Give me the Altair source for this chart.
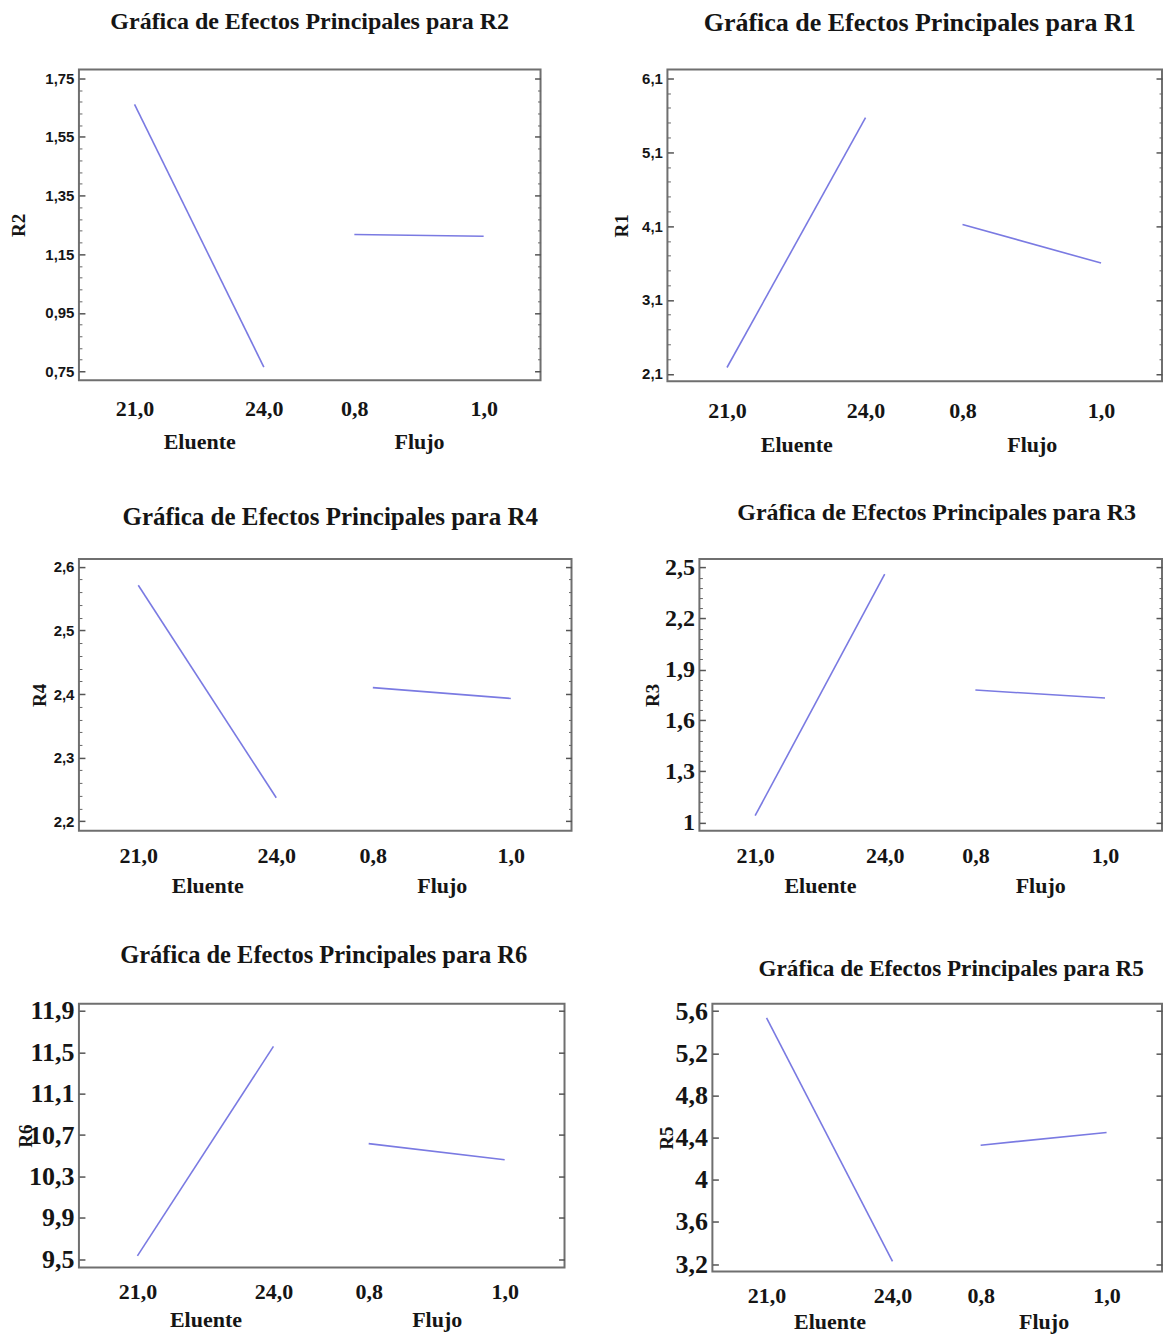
import altair as alt
import pandas as pd

# ---------------- data ----------------
FACTORS = ["Eluente", "Flujo"]
LEVEL_LABELS = [["21,0", "24,0"], ["0,8", "1,0"]]
LEVEL_POS = [[0.0, 1.0], [1.7, 2.7]]          # position of each level along the shared x axis
X_DOMAIN = [-0.43, 3.14]

RESPONSES = ["R2", "R1", "R4", "R3", "R6", "R5"]
ELUENTE = {"R2": [1.661, 0.765], "R1": [2.186, 5.568], "R4": [2.571, 2.237],
           "R3": [1.039, 2.461], "R6": [9.532, 11.557], "R5": [5.535, 3.226]}
FLUJO = {"R2": [1.217, 1.211], "R1": [4.123, 3.600], "R4": [2.410, 2.393],
         "R3": [1.779, 1.732], "R6": [10.617, 10.462], "R5": [4.328, 4.449]}
Y_DOMAIN = {"R2": [0.72, 1.78], "R1": [2.0, 6.22], "R4": [2.185, 2.612],
            "R3": [0.95, 2.55], "R6": [9.42, 11.97], "R5": [3.13, 5.67]}
Y_TICKS = {"R2": [0.75, 0.95, 1.15, 1.35, 1.55, 1.75],
           "R1": [2.1, 3.1, 4.1, 5.1, 6.1],
           "R4": [2.2, 2.3, 2.4, 2.5, 2.6],
           "R3": [1.0, 1.3, 1.6, 1.9, 2.2, 2.5],
           "R6": [9.5, 9.9, 10.3, 10.7, 11.1, 11.5, 11.9],
           "R5": [3.2, 3.6, 4.0, 4.4, 4.8, 5.2, 5.6]}
MINOR_PER_MAJOR = {"R2": 4, "R1": 4, "R4": 4, "R3": 4, "R6": 0, "R5": 0}

# ---------------- styling / layout ----------------
SERIF = "Liberation Serif"
SANS = "Liberation Sans"
LINE_COLOR = "#7a7ae2"
TEXT = "#151515"

# w/h plot size, tpad y-title padding, label font/size, title size/offset/dx,
# lp / np : padding of level labels / factor names below the plot
GEOM = {
    "R2": dict(w=462, h=311, tpad=16, lfont=SANS, lsize=15, ts=24, toff=36, tdx=0, lp=18, np=51),
    "R1": dict(w=495, h=312, tpad=10, lfont=SANS, lsize=15, ts=26, toff=34, tdx=5, lp=19, np=53),
    "R4": dict(w=493, h=272, tpad=4, lfont=SANS, lsize=15, ts=25, toff=29.5, tdx=5, lp=15, np=45),
    "R3": dict(w=463, h=272, tpad=2, lfont=SERIF, lsize=24, ts=24, toff=31, tdx=6, lp=15, np=45),
    "R6": dict(w=486, h=264, tpad=-7, lfont=SERIF, lsize=26, ts=24.5, toff=29, tdx=2, lp=14, np=42),
    "R5": dict(w=450, h=268, tpad=-2, lfont=SERIF, lsize=26, ts=23.2, toff=17, tdx=14, lp=14, np=40),
}


def x_label_expr():
    parts = []
    for pos_list, lab_list in zip(LEVEL_POS, LEVEL_LABELS):
        for p, l in zip(pos_list, lab_list):
            parts.append(f"datum.value == {p} ? '{l}'")
    return " : ".join(parts) + " : ''"


def name_label_expr(centers):
    parts = [f"datum.value == {c} ? '{n}'" for c, n in zip(centers, FACTORS)]
    return " : ".join(parts) + " : ''"


def minor_values(ticks, n):
    if n == 0:
        return []
    step = (ticks[1] - ticks[0]) / (n + 1)
    vals = []
    for a in ticks[:-1]:
        for k in range(1, n + 1):
            vals.append(round(a + k * step, 6))
    return vals


def panel(r):
    g = GEOM[r]
    rows = []
    for f, pos_list, vals in zip(FACTORS, LEVEL_POS, [ELUENTE[r], FLUJO[r]]):
        for p, v in zip(pos_list, vals):
            rows.append({"factor": f, "pos": p, "value": v})
    df = pd.DataFrame(rows)

    positions = [p for pl in LEVEL_POS for p in pl]
    centers = [round(sum(pl) / len(pl), 4) for pl in LEVEL_POS]

    xs = alt.Scale(domain=X_DOMAIN, nice=False, zero=False)
    ys = alt.Scale(domain=Y_DOMAIN[r], nice=False, zero=False)

    x_levels = alt.Axis(orient="bottom", values=positions, labelExpr=x_label_expr(),
                        ticks=False, domain=False, grid=False, title=None,
                        labelFont=SERIF, labelFontSize=22, labelFontWeight="bold",
                        labelColor=TEXT, labelPadding=g["lp"], labelFlush=False,
                        labelOverlap=False)
    x_names = alt.Axis(orient="bottom", values=centers, labelExpr=name_label_expr(centers),
                       ticks=False, domain=False, grid=False, title=None,
                       labelFont=SERIF, labelFontSize=22, labelFontWeight="bold",
                       labelColor=TEXT, labelPadding=g["np"], labelFlush=False,
                       labelOverlap=False)

    lab = "replace(format(datum.value, '~g'), '.', ',')"
    y_major_left = alt.Axis(orient="left", values=Y_TICKS[r], labelExpr=lab,
                            tickSize=6, offset=-6, domain=False, grid=False,
                            tickColor="#555", tickWidth=1.5,
                            labelFont=g["lfont"], labelFontSize=g["lsize"],
                            labelFontWeight="bold", labelColor=TEXT, labelPadding=5,
                            title=r, titleFont=SERIF, titleFontSize=19,
                            titleFontWeight="bold", titleColor=TEXT,
                            titlePadding=g["tpad"], labelFlush=False, labelOverlap=False)
    mv = minor_values(Y_TICKS[r], MINOR_PER_MAJOR[r])
    y_minor_left = alt.Axis(orient="left", values=mv if mv else [Y_TICKS[r][0]],
                            labels=False, tickSize=3 if mv else 0, offset=-3,
                            domain=False, grid=False, tickColor="#666", title=None)
    y_major_right = alt.Axis(orient="right", values=Y_TICKS[r], labels=False,
                             tickSize=6, offset=-6, domain=False, grid=False,
                             tickColor="#555", tickWidth=1.5, title=None)
    y_minor_right = alt.Axis(orient="right", values=mv if mv else [Y_TICKS[r][0]],
                             labels=False, tickSize=3 if mv else 0, offset=-3,
                             domain=False, grid=False, tickColor="#666", title=None)

    base = alt.Chart(df)
    l1 = base.mark_line(color=LINE_COLOR, strokeWidth=1.6).encode(
        x=alt.X("pos:Q", scale=xs, axis=x_levels),
        y=alt.Y("value:Q", scale=ys, axis=y_major_left),
        detail="factor:N")
    l2 = base.mark_line(strokeOpacity=0).encode(
        x=alt.X("pos:Q", scale=xs, axis=x_names),
        y=alt.Y("value:Q", scale=ys, axis=y_minor_left),
        detail="factor:N")
    l3 = base.mark_line(strokeOpacity=0).encode(
        x=alt.X("pos:Q", scale=xs, axis=None),
        y=alt.Y("value:Q", scale=ys, axis=y_major_right),
        detail="factor:N")
    l4 = base.mark_line(strokeOpacity=0).encode(
        x=alt.X("pos:Q", scale=xs, axis=None),
        y=alt.Y("value:Q", scale=ys, axis=y_minor_right),
        detail="factor:N")

    tp = alt.TitleParams(text=f"Gráfica de Efectos Principales para {r}", font=SERIF,
                         fontSize=g["ts"], fontWeight="bold", color=TEXT,
                         anchor="middle", offset=g["toff"], dx=g["tdx"])

    return alt.layer(l1, l2, l3, l4).resolve_axis(
        x="independent", y="independent").properties(
        width=g["w"], height=g["h"], title=tp)


row1 = alt.hconcat(panel("R2"), panel("R1"), spacing=69)
row2 = alt.hconcat(panel("R4"), panel("R3"), spacing=69)
row3 = alt.hconcat(panel("R6"), panel("R5"), spacing=90)

top_rows = alt.vconcat(row1, row2, spacing=43)
chart = alt.vconcat(top_rows, row3, spacing=44).properties(
    padding={"left": 0, "top": 0, "right": 0, "bottom": 0}
).configure_view(stroke="#6f6f6f", strokeWidth=2)

chart.save("out.html", embed_options={"renderer": "svg", "actions": False})
